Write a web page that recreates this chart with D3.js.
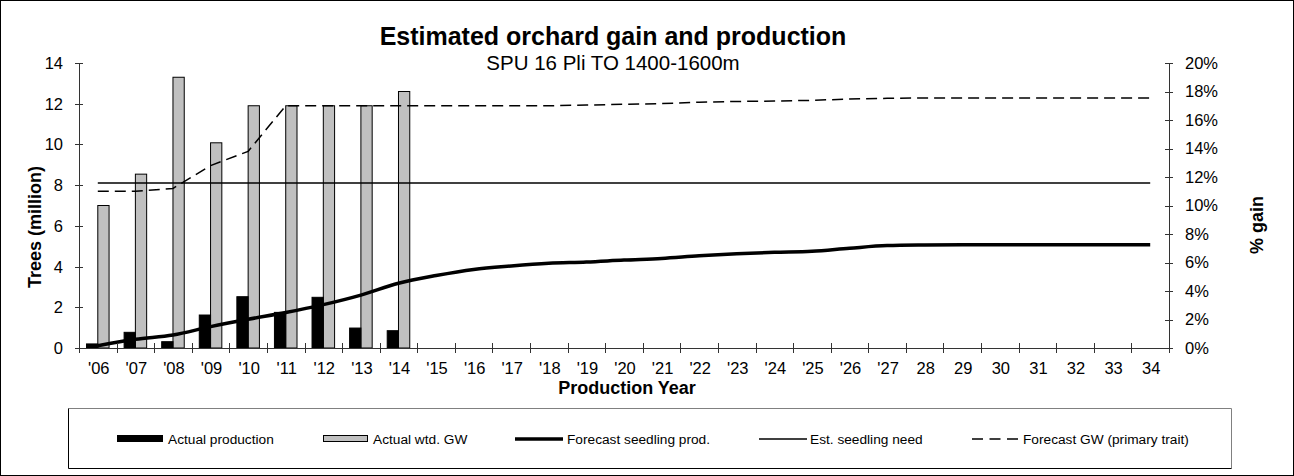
<!DOCTYPE html>
<html>
<head>
<meta charset="utf-8">
<script src="https://cdn.jsdelivr.net/npm/d3@7"></script>
<style>
  body { margin: 0; background: #fff; }
  svg { display: block; font-family: "Liberation Sans", Arial, sans-serif; }
</style>
</head>
<body>
<svg id="chart" width="1294" height="476"></svg>
<script>
// ---- data ----
const years = ["'06","'07","'08","'09","'10","'11","'12","'13","'14","'15","'16","'17","'18","'19","'20","'21","'22","'23","'24","'25","'26","'27","28","29","30","31","32","33","34"];
const actualProduction = [0.2, 0.77, 0.31, 1.62, 2.52, 1.75, 2.49, 0.98, 0.85];           // million trees (left axis)
const actualGW = [10.0, 12.2, 19.0, 14.4, 17.0, 17.0, 17.0, 17.0, 18.0];                  // % gain (right axis)
const forecastProd = [0.11, 0.43, 0.64, 1.05, 1.41, 1.74, 2.13, 2.6, 3.18, 3.56, 3.86, 4.03, 4.16, 4.22, 4.32, 4.4, 4.53, 4.63, 4.7, 4.75, 4.9, 5.03, 5.06, 5.07, 5.07, 5.07, 5.07, 5.07, 5.07];
const seedlingNeed = [8.1, 8.1, 8.1, 8.1, 8.1, 8.1, 8.1, 8.1, 8.1, 8.1, 8.1, 8.1, 8.1, 8.1, 8.1, 8.1, 8.1, 8.1, 8.1, 8.1, 8.1, 8.1, 8.1, 8.1, 8.1, 8.1, 8.1, 8.1, 8.1];
const forecastGW = [11.0, 11.0, 11.2, 12.8, 13.8, 17.0, 17.0, 17.0, 17.0, 17.0, 17.0, 17.0, 17.0, 17.05, 17.1, 17.15, 17.25, 17.3, 17.33, 17.38, 17.47, 17.52, 17.55, 17.55, 17.55, 17.55, 17.55, 17.55, 17.55];
const leftTicks = [0, 2, 4, 6, 8, 10, 12, 14];
const rightTicks = [0, 2, 4, 6, 8, 10, 12, 14, 16, 18, 20];
const legendLabels = ["Actual production", "Actual wtd. GW", "Forecast seedling prod.", "Est. seedling need", "Forecast GW (primary trait)"];

// ---- layout ----
const svg = d3.select("#chart");
const W = 1294, H = 476;
const plot = { left: 79, right: 1169, top: 63, bottom: 348 };

svg.append("rect").attr("x", 0.5).attr("y", 0.5).attr("width", W - 1).attr("height", H - 1)
  .attr("fill", "#fff").attr("stroke", "#000").attr("stroke-width", 1);

const x = d3.scaleBand().domain(years).range([plot.left, plot.right]).paddingInner(0).paddingOuter(0);
const yL = d3.scaleLinear().domain([0, 14]).range([plot.bottom, plot.top]);
const yR = d3.scaleLinear().domain([0, 20]).range([plot.bottom, plot.top]);
const bw = x.bandwidth();
const cx = d => x(d) + bw / 2;
const barW = bw * 0.3;

// ---- bars ----
const g = svg.append("g");
g.selectAll(".gw").data(actualGW).enter().append("rect")
  .attr("x", (d, i) => cx(years[i]))
  .attr("y", d => yR(d))
  .attr("width", barW)
  .attr("height", d => yR(0) - yR(d))
  .attr("fill", "#c0c0c0").attr("stroke", "#000").attr("stroke-width", 1);
g.selectAll(".prod").data(actualProduction).enter().append("rect")
  .attr("x", (d, i) => cx(years[i]) - barW)
  .attr("y", d => yL(d))
  .attr("width", barW)
  .attr("height", d => yL(0) - yL(d))
  .attr("fill", "#000").attr("stroke", "#000").attr("stroke-width", 1);

// ---- lines ----
const lineNeed = d3.line().x((d, i) => cx(years[i])).y(d => yL(d));
g.append("path").datum(seedlingNeed).attr("d", lineNeed)
  .attr("fill", "none").attr("stroke", "#000").attr("stroke-width", 1.5);

const lineGW = d3.line().x((d, i) => cx(years[i])).y(d => yR(d));
g.append("path").datum(forecastGW).attr("d", lineGW)
  .attr("fill", "none").attr("stroke", "#000").attr("stroke-width", 1.5)
  .attr("stroke-dasharray", "11,6");

const lineProd = d3.line().x((d, i) => cx(years[i])).y(d => yL(d)).curve(d3.curveMonotoneX);
g.append("path").datum(forecastProd).attr("d", lineProd)
  .attr("fill", "none").attr("stroke", "#000").attr("stroke-width", 3.5)
  .attr("stroke-linejoin", "round");

// ---- axes ----
const axisColor = "#333";
const ax = svg.append("g").attr("stroke", axisColor).attr("stroke-width", 1).attr("shape-rendering", "crispEdges");
ax.append("line").attr("x1", plot.left).attr("x2", plot.left).attr("y1", plot.top).attr("y2", plot.bottom);
ax.append("line").attr("x1", plot.right).attr("x2", plot.right).attr("y1", plot.top).attr("y2", plot.bottom);
ax.append("line").attr("x1", plot.left).attr("x2", plot.right).attr("y1", plot.bottom).attr("y2", plot.bottom);
ax.selectAll(".lt").data(leftTicks).enter().append("line")
  .attr("x1", plot.left - 4).attr("x2", plot.left + 4).attr("y1", d => Math.round(yL(d)) + 0.5).attr("y2", d => Math.round(yL(d)) + 0.5);
ax.selectAll(".rt").data(rightTicks).enter().append("line")
  .attr("x1", plot.right - 4).attr("x2", plot.right + 4).attr("y1", d => Math.round(yR(d)) + 0.5).attr("y2", d => Math.round(yR(d)) + 0.5);
const xTickPos = years.map(d => x(d)).concat([plot.right]);
ax.selectAll(".xt").data(xTickPos).enter().append("line")
  .attr("x1", d => Math.round(d) + 0.5).attr("x2", d => Math.round(d) + 0.5)
  .attr("y1", plot.bottom - 5).attr("y2", plot.bottom + 5);

const tickFont = 16.5;
svg.append("g").selectAll("text").data(leftTicks).enter().append("text")
  .attr("x", plot.left - 16).attr("y", d => yL(d)).attr("dy", "0.36em")
  .attr("text-anchor", "end").attr("font-size", tickFont).attr("fill", "#000")
  .text(d => d);
svg.append("g").selectAll("text").data(rightTicks).enter().append("text")
  .attr("x", plot.right + 16).attr("y", d => yR(d)).attr("dy", "0.36em")
  .attr("text-anchor", "start").attr("font-size", tickFont).attr("fill", "#000")
  .text(d => d + "%");
svg.append("g").selectAll("text").data(years).enter().append("text")
  .attr("x", d => cx(d) + 1).attr("y", 374)
  .attr("text-anchor", "middle").attr("font-size", tickFont).attr("fill", "#000")
  .text(d => d);

// ---- titles ----
svg.append("text").attr("x", 613).attr("y", 45).attr("text-anchor", "middle")
  .attr("font-size", 25).attr("font-weight", "bold").text("Estimated orchard gain and production");
svg.append("text").attr("x", 613).attr("y", 70).attr("text-anchor", "middle")
  .attr("font-size", 20.5).text("SPU 16 Pli TO 1400-1600m");
svg.append("text").attr("x", 627).attr("y", 394).attr("text-anchor", "middle")
  .attr("font-size", 18).attr("font-weight", "bold").text("Production Year");
svg.append("text").attr("transform", "translate(41,227) rotate(-90)").attr("text-anchor", "middle")
  .attr("font-size", 18).attr("font-weight", "bold").text("Trees (million)");
svg.append("text").attr("transform", "translate(1263,225) rotate(-90)").attr("text-anchor", "middle")
  .attr("font-size", 18).attr("font-weight", "bold").text("% gain");

// ---- legend ----
const lg = svg.append("g");
const L = { x0: 68, x1: 1231, y0: 408, y1: 468 };
lg.append("rect").attr("x", L.x0 + 0.5).attr("y", L.y0 + 0.5).attr("width", L.x1 - L.x0).attr("height", L.y1 - L.y0)
  .attr("fill", "#fff").attr("stroke", "none");
lg.append("line").attr("x1", L.x0 + 0.5).attr("x2", L.x1 + 0.5).attr("y1", L.y0 + 0.5).attr("y2", L.y0 + 0.5).attr("stroke", "#808080");
lg.append("line").attr("x1", L.x1 + 0.5).attr("x2", L.x1 + 0.5).attr("y1", L.y0 + 0.5).attr("y2", L.y1 + 0.5).attr("stroke", "#808080");
lg.append("line").attr("x1", L.x0 + 0.5).attr("x2", L.x0 + 0.5).attr("y1", L.y0 + 0.5).attr("y2", L.y1 + 0.5).attr("stroke", "#000");
lg.append("line").attr("x1", L.x0 + 0.5).attr("x2", L.x1 + 0.5).attr("y1", L.y1 + 0.5).attr("y2", L.y1 + 0.5).attr("stroke", "#000");

const ly = 439;
const items = [
  { sx: 117, ex: 162, tx: 168, type: "bar", fill: "#000" },
  { sx: 323, ex: 367, tx: 373, type: "bar", fill: "#c0c0c0" },
  { sx: 515, ex: 563, tx: 567, type: "line", w: 3.5 },
  { sx: 759, ex: 807, tx: 810, type: "line", w: 1.5 },
  { sx: 972, ex: 1018, tx: 1023, type: "line", w: 1.5, dash: "11,6.5" }
];
items.forEach((it, i) => {
  if (it.type === "bar") {
    lg.append("rect").attr("x", it.sx + 0.5).attr("y", ly - 3.5).attr("width", it.ex - it.sx).attr("height", 6)
      .attr("fill", it.fill).attr("stroke", "#000").attr("stroke-width", 1);
  } else {
    lg.append("line").attr("x1", it.sx).attr("x2", it.ex).attr("y1", ly).attr("y2", ly)
      .attr("stroke", "#000").attr("stroke-width", it.w).attr("stroke-dasharray", it.dash || null);
  }
  lg.append("text").attr("x", it.tx).attr("y", ly + 5).attr("font-size", 13.7).attr("fill", "#000").text(legendLabels[i]);
});
</script>
</body>
</html>
